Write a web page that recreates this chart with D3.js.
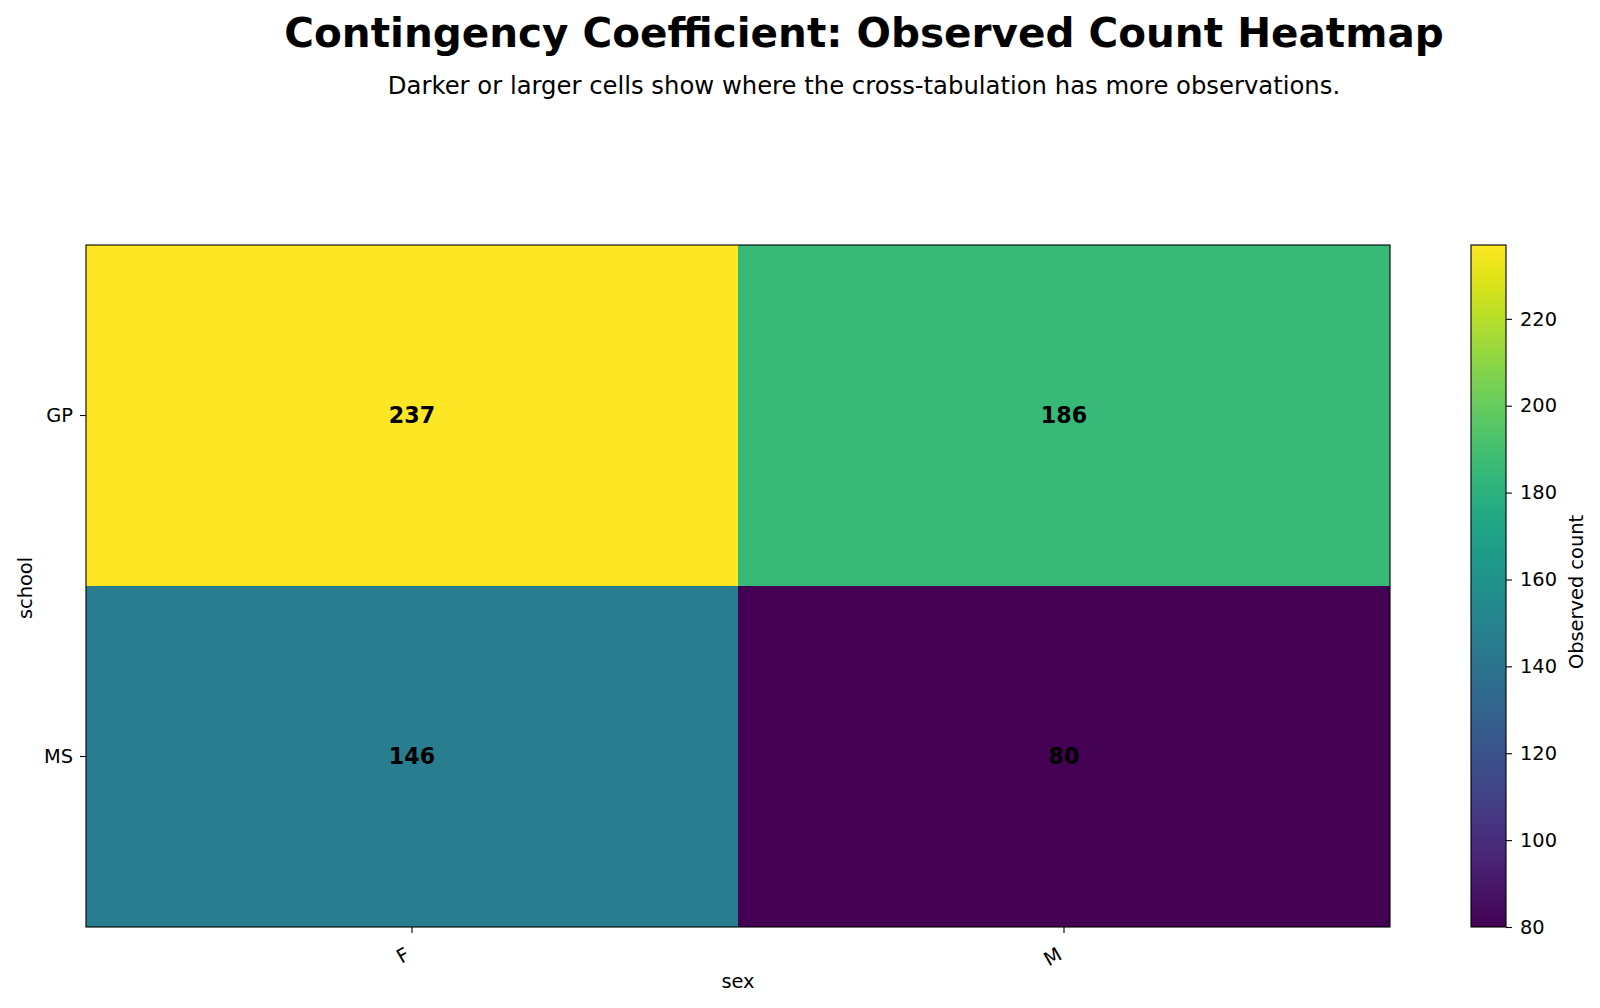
<!DOCTYPE html>
<html>
<head>
<meta charset="utf-8">
<script src="https://cdn.jsdelivr.net/npm/d3@7"></script>
<style>
  html, body { margin: 0; padding: 0; background: #fff; }
  svg { display: block; font-family: "DejaVu Sans", sans-serif; }
</style>
</head>
<body>
<svg id="chart" width="1600" height="1008"></svg>
<script>
const rowLabels = ["GP", "MS"];
const colLabels = ["F", "M"];
const counts = [
  [237, 186],
  [146, 80]
];
const colorbarTicks = [80, 100, 120, 140, 160, 180, 200, 220];
const titleText = "Contingency Coefficient: Observed Count Heatmap";
const subtitleText = "Darker or larger cells show where the cross-tabulation has more observations.";
const xLabel = "sex";
const yLabel = "school";
const cbLabel = "Observed count";

const svg = d3.select("#chart");
const plot = { left: 86, top: 245, right: 1390, bottom: 927 };
const cb = { left: 1471, right: 1506 };
const fs = 19.4;

const cells = [];
rowLabels.forEach((r, i) => colLabels.forEach((c, j) => cells.push({ r, c, v: counts[i][j] })));
const allVals = cells.map(d => d.v);
const vmin = d3.min(allVals), vmax = d3.max(allVals);

const x = d3.scaleBand().domain(colLabels).range([plot.left, plot.right]);
const y = d3.scaleBand().domain(rowLabels).range([plot.top, plot.bottom]);
const color = d3.scaleSequential(d3.interpolateViridis).domain([vmin, vmax]);

// title
svg.append("text").attr("x", 864).attr("y", 47).attr("text-anchor", "middle")
  .attr("font-size", 40.5).attr("font-weight", "bold").text(titleText);
svg.append("text").attr("x", 864).attr("y", 94).attr("text-anchor", "middle")
  .attr("font-size", 24.3).text(subtitleText);

// cells
svg.append("g").selectAll("rect").data(cells).join("rect")
  .attr("x", d => x(d.c)).attr("y", d => y(d.r))
  .attr("width", x.bandwidth()).attr("height", y.bandwidth())
  .attr("fill", d => color(d.v));

svg.append("g").selectAll("text").data(cells).join("text")
  .attr("x", d => x(d.c) + x.bandwidth() / 2)
  .attr("y", d => y(d.r) + y.bandwidth() / 2)
  .attr("dy", "0.36em")
  .attr("text-anchor", "middle").attr("font-size", 22.2).attr("font-weight", "bold")
  .attr("fill", "#000").text(d => d.v);

// frame
svg.append("rect").attr("x", plot.left).attr("y", plot.top)
  .attr("width", plot.right - plot.left).attr("height", plot.bottom - plot.top)
  .attr("fill", "none").attr("stroke", "#000").attr("stroke-width", 1.1);

// x axis
const xAxis = svg.append("g").attr("transform", `translate(0,${plot.bottom})`)
  .call(d3.axisBottom(x).tickSize(6).tickPadding(4));
xAxis.select(".domain").remove();
xAxis.selectAll(".tick line").attr("stroke", "#000").attr("stroke-width", 1.1);
xAxis.selectAll(".tick text")
  .attr("font-size", fs).attr("font-family", "DejaVu Sans").attr("fill", "#000")
  .attr("text-anchor", "end").attr("dy", null).attr("y", null)
  .attr("dominant-baseline", "hanging")
  .attr("transform", "translate(-8,19) rotate(-30)");

// y axis
const yAxis = svg.append("g").attr("transform", `translate(${plot.left},0)`)
  .call(d3.axisLeft(y).tickSize(6).tickPadding(7));
yAxis.select(".domain").remove();
yAxis.selectAll(".tick line").attr("stroke", "#000").attr("stroke-width", 1.1);
yAxis.selectAll(".tick text").attr("font-size", fs).attr("font-family", "DejaVu Sans").attr("fill", "#000");

// axis labels
svg.append("text").attr("x", (plot.left + plot.right) / 2).attr("y", 988)
  .attr("text-anchor", "middle").attr("font-size", fs).text(xLabel);
svg.append("text").attr("transform", `translate(32,${(plot.top + plot.bottom) / 2 + 2}) rotate(-90)`)
  .attr("text-anchor", "middle").attr("font-size", fs).text(yLabel);

// colorbar
const defs = svg.append("defs");
const grad = defs.append("linearGradient").attr("id", "cbgrad")
  .attr("x1", 0).attr("y1", 1).attr("x2", 0).attr("y2", 0);
d3.range(0, 1.0001, 0.05).forEach(t => {
  grad.append("stop").attr("offset", t).attr("stop-color", d3.interpolateViridis(t));
});
svg.append("rect").attr("x", cb.left).attr("y", plot.top)
  .attr("width", cb.right - cb.left).attr("height", plot.bottom - plot.top)
  .attr("fill", "url(#cbgrad)").attr("stroke", "#000").attr("stroke-width", 1.1);

const cy = d3.scaleLinear().domain([vmin, vmax]).range([plot.bottom, plot.top]);
const cbAxis = svg.append("g").attr("transform", `translate(${cb.right},0)`)
  .call(d3.axisRight(cy).tickValues(colorbarTicks).tickSize(6).tickPadding(8));
cbAxis.select(".domain").remove();
cbAxis.selectAll(".tick line").attr("stroke", "#000").attr("stroke-width", 1.1);
cbAxis.selectAll(".tick text").attr("font-size", fs).attr("font-family", "DejaVu Sans").attr("fill", "#000");

svg.append("text").attr("transform", `translate(1583,${(plot.top + plot.bottom) / 2 + 6}) rotate(-90)`)
  .attr("text-anchor", "middle").attr("font-size", fs).text(cbLabel);
</script>
</body>
</html>
